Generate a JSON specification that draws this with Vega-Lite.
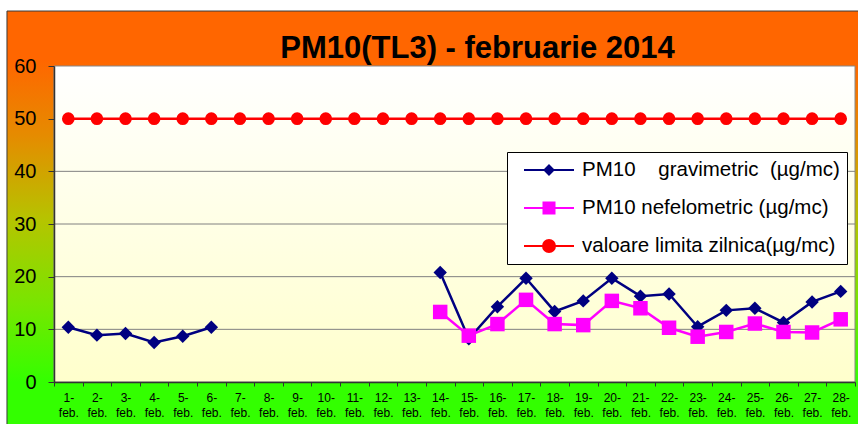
{
  "$schema": "https://vega.github.io/schema/vega-lite/v6.json",
  "width": 801,
  "height": 316,
  "autosize": {"type": "none"},
  "padding": {"left": 54, "top": 66, "right": 3, "bottom": 42},
  "background": "white",
  "title": {"text": "PM10(TL3) - februarie 2014", "font": "Liberation Sans", "fontSize": 31, "fontWeight": "bold", "color": "black", "anchor": "middle", "frame": "group", "dx": 23, "offset": 0, "baseline": "alphabetic", "dy": 78, "zindex": 1},
  "data": {"values": [
    {"day": "1-feb.", "series": "PM10    gravimetric  (µg/mc)", "value": 10.4},
    {"day": "2-feb.", "series": "PM10    gravimetric  (µg/mc)", "value": 8.9},
    {"day": "3-feb.", "series": "PM10    gravimetric  (µg/mc)", "value": 9.2},
    {"day": "4-feb.", "series": "PM10    gravimetric  (µg/mc)", "value": 7.5},
    {"day": "5-feb.", "series": "PM10    gravimetric  (µg/mc)", "value": 8.7},
    {"day": "6-feb.", "series": "PM10    gravimetric  (µg/mc)", "value": 10.4},
    {"day": "7-feb.", "series": "PM10    gravimetric  (µg/mc)", "value": null},
    {"day": "8-feb.", "series": "PM10    gravimetric  (µg/mc)", "value": null},
    {"day": "9-feb.", "series": "PM10    gravimetric  (µg/mc)", "value": null},
    {"day": "10-feb.", "series": "PM10    gravimetric  (µg/mc)", "value": null},
    {"day": "11-feb.", "series": "PM10    gravimetric  (µg/mc)", "value": null},
    {"day": "12-feb.", "series": "PM10    gravimetric  (µg/mc)", "value": null},
    {"day": "13-feb.", "series": "PM10    gravimetric  (µg/mc)", "value": null},
    {"day": "14-feb.", "series": "PM10    gravimetric  (µg/mc)", "value": 20.8},
    {"day": "15-feb.", "series": "PM10    gravimetric  (µg/mc)", "value": 8.2},
    {"day": "16-feb.", "series": "PM10    gravimetric  (µg/mc)", "value": 14.3},
    {"day": "17-feb.", "series": "PM10    gravimetric  (µg/mc)", "value": 19.7},
    {"day": "18-feb.", "series": "PM10    gravimetric  (µg/mc)", "value": 13.4},
    {"day": "19-feb.", "series": "PM10    gravimetric  (µg/mc)", "value": 15.4},
    {"day": "20-feb.", "series": "PM10    gravimetric  (µg/mc)", "value": 19.7},
    {"day": "21-feb.", "series": "PM10    gravimetric  (µg/mc)", "value": 16.3},
    {"day": "22-feb.", "series": "PM10    gravimetric  (µg/mc)", "value": 16.7},
    {"day": "23-feb.", "series": "PM10    gravimetric  (µg/mc)", "value": 10.5},
    {"day": "24-feb.", "series": "PM10    gravimetric  (µg/mc)", "value": 13.6},
    {"day": "25-feb.", "series": "PM10    gravimetric  (µg/mc)", "value": 14.0},
    {"day": "26-feb.", "series": "PM10    gravimetric  (µg/mc)", "value": 11.3},
    {"day": "27-feb.", "series": "PM10    gravimetric  (µg/mc)", "value": 15.2},
    {"day": "28-feb.", "series": "PM10    gravimetric  (µg/mc)", "value": 17.2},
    {"day": "14-feb.", "series": "PM10 nefelometric (µg/mc)", "value": 13.3},
    {"day": "15-feb.", "series": "PM10 nefelometric (µg/mc)", "value": 8.8},
    {"day": "16-feb.", "series": "PM10 nefelometric (µg/mc)", "value": 11.0},
    {"day": "17-feb.", "series": "PM10 nefelometric (µg/mc)", "value": 15.6},
    {"day": "18-feb.", "series": "PM10 nefelometric (µg/mc)", "value": 11.0},
    {"day": "19-feb.", "series": "PM10 nefelometric (µg/mc)", "value": 10.8},
    {"day": "20-feb.", "series": "PM10 nefelometric (µg/mc)", "value": 15.4},
    {"day": "21-feb.", "series": "PM10 nefelometric (µg/mc)", "value": 14.0},
    {"day": "22-feb.", "series": "PM10 nefelometric (µg/mc)", "value": 10.3},
    {"day": "23-feb.", "series": "PM10 nefelometric (µg/mc)", "value": 8.6},
    {"day": "24-feb.", "series": "PM10 nefelometric (µg/mc)", "value": 9.5},
    {"day": "25-feb.", "series": "PM10 nefelometric (µg/mc)", "value": 11.1},
    {"day": "26-feb.", "series": "PM10 nefelometric (µg/mc)", "value": 9.5},
    {"day": "27-feb.", "series": "PM10 nefelometric (µg/mc)", "value": 9.4},
    {"day": "28-feb.", "series": "PM10 nefelometric (µg/mc)", "value": 11.9},
    {"day": "1-feb.", "series": "valoare limita zilnica(µg/mc)", "value": 50},
    {"day": "2-feb.", "series": "valoare limita zilnica(µg/mc)", "value": 50},
    {"day": "3-feb.", "series": "valoare limita zilnica(µg/mc)", "value": 50},
    {"day": "4-feb.", "series": "valoare limita zilnica(µg/mc)", "value": 50},
    {"day": "5-feb.", "series": "valoare limita zilnica(µg/mc)", "value": 50},
    {"day": "6-feb.", "series": "valoare limita zilnica(µg/mc)", "value": 50},
    {"day": "7-feb.", "series": "valoare limita zilnica(µg/mc)", "value": 50},
    {"day": "8-feb.", "series": "valoare limita zilnica(µg/mc)", "value": 50},
    {"day": "9-feb.", "series": "valoare limita zilnica(µg/mc)", "value": 50},
    {"day": "10-feb.", "series": "valoare limita zilnica(µg/mc)", "value": 50},
    {"day": "11-feb.", "series": "valoare limita zilnica(µg/mc)", "value": 50},
    {"day": "12-feb.", "series": "valoare limita zilnica(µg/mc)", "value": 50},
    {"day": "13-feb.", "series": "valoare limita zilnica(µg/mc)", "value": 50},
    {"day": "14-feb.", "series": "valoare limita zilnica(µg/mc)", "value": 50},
    {"day": "15-feb.", "series": "valoare limita zilnica(µg/mc)", "value": 50},
    {"day": "16-feb.", "series": "valoare limita zilnica(µg/mc)", "value": 50},
    {"day": "17-feb.", "series": "valoare limita zilnica(µg/mc)", "value": 50},
    {"day": "18-feb.", "series": "valoare limita zilnica(µg/mc)", "value": 50},
    {"day": "19-feb.", "series": "valoare limita zilnica(µg/mc)", "value": 50},
    {"day": "20-feb.", "series": "valoare limita zilnica(µg/mc)", "value": 50},
    {"day": "21-feb.", "series": "valoare limita zilnica(µg/mc)", "value": 50},
    {"day": "22-feb.", "series": "valoare limita zilnica(µg/mc)", "value": 50},
    {"day": "23-feb.", "series": "valoare limita zilnica(µg/mc)", "value": 50},
    {"day": "24-feb.", "series": "valoare limita zilnica(µg/mc)", "value": 50},
    {"day": "25-feb.", "series": "valoare limita zilnica(µg/mc)", "value": 50},
    {"day": "26-feb.", "series": "valoare limita zilnica(µg/mc)", "value": 50},
    {"day": "27-feb.", "series": "valoare limita zilnica(µg/mc)", "value": 50},
    {"day": "28-feb.", "series": "valoare limita zilnica(µg/mc)", "value": 50}
  ]},
  "layer": [
    {
      "data": {"values": [{}]},
      "layer": [
        {
          "mark": {"type": "rect", "stroke": "#3a3a3a", "strokeWidth": 1,
            "fill": {"gradient": "linear", "x1": 0, "y1": 0, "x2": 0, "y2": 1, "stops": [
              {"offset": 0, "color": "#FF6600"},
              {"offset": 0.117, "color": "#FF6600"},
              {"offset": 0.3, "color": "#E58C00"},
              {"offset": 0.5, "color": "#B5C400"},
              {"offset": 0.7, "color": "#78E600"},
              {"offset": 0.887, "color": "#33FF00"},
              {"offset": 1, "color": "#33FF00"}
            ]}},
          "encoding": {
            "x": {"datum": -0.0587, "type": "quantitative", "scale": {"domain": [0, 1], "nice": false, "zero": false}, "axis": null},
            "x2": {"datum": 1.02},
            "y": {"datum": 70.44, "type": "quantitative", "scale": {"domain": [0, 60], "nice": false}, "axis": {"title": null, "zindex": 1}},
            "y2": {"datum": -9}
          }
        },
        {
          "mark": {"type": "rect", "stroke": "#888888", "strokeWidth": 1,
            "fill": {"gradient": "linear", "x1": 0, "y1": 0, "x2": 0, "y2": 1, "stops": [
              {"offset": 0, "color": "#FFFFFF"},
              {"offset": 1, "color": "#FFFFCC"}
            ]}},
          "encoding": {
            "x": {"datum": 0, "type": "quantitative", "scale": {"domain": [0, 1], "nice": false, "zero": false}, "axis": null},
            "x2": {"datum": 1},
            "y": {"datum": 60, "type": "quantitative", "scale": {"domain": [0, 60], "nice": false}, "axis": {"title": null, "zindex": 1}},
            "y2": {"datum": 0}
          }
        }
      ]
    },
    {"data": {"values": [{}]}, "mark": {"type": "rule", "color": "#808080", "strokeWidth": 1}, "encoding": {"y": {"datum": 10, "type": "quantitative", "scale": {"domain": [0, 60], "nice": false}, "axis": {"title": null, "zindex": 1}}}},
    {"data": {"values": [{}]}, "mark": {"type": "rule", "color": "#808080", "strokeWidth": 1}, "encoding": {"y": {"datum": 20, "type": "quantitative", "scale": {"domain": [0, 60], "nice": false}, "axis": {"title": null, "zindex": 1}}}},
    {"data": {"values": [{}]}, "mark": {"type": "rule", "color": "#808080", "strokeWidth": 1}, "encoding": {"y": {"datum": 30, "type": "quantitative", "scale": {"domain": [0, 60], "nice": false}, "axis": {"title": null, "zindex": 1}}}},
    {"data": {"values": [{}]}, "mark": {"type": "rule", "color": "#808080", "strokeWidth": 1}, "encoding": {"y": {"datum": 40, "type": "quantitative", "scale": {"domain": [0, 60], "nice": false}, "axis": {"title": null, "zindex": 1}}}},
    {
      "encoding": {
        "x": {"field": "day", "type": "nominal", "sort": null,
          "scale": {"type": "band", "paddingInner": 0, "paddingOuter": 0, "domain": ["1-feb.","2-feb.","3-feb.","4-feb.","5-feb.","6-feb.","7-feb.","8-feb.","9-feb.","10-feb.","11-feb.","12-feb.","13-feb.","14-feb.","15-feb.","16-feb.","17-feb.","18-feb.","19-feb.","20-feb.","21-feb.","22-feb.","23-feb.","24-feb.","25-feb.","26-feb.","27-feb.","28-feb."]},
          "bandPosition": 0.5,
          "axis": {"title": null, "labelAngle": 0, "tickBand": "extent", "zindex": 1, "labelExpr": "datum.label ? [split(datum.label, '-')[0] + '-', 'feb.'] : ''"}},
        "y": {"field": "value", "type": "quantitative", "scale": {"domain": [0, 60], "nice": false},
          "axis": {"title": null, "zindex": 1, "values": [0, 10, 20, 30, 40, 50, 60]}},
        "color": {"field": "series", "type": "nominal",
          "scale": {"domain": ["PM10    gravimetric  (µg/mc)", "PM10 nefelometric (µg/mc)", "valoare limita zilnica(µg/mc)"], "range": ["#000080", "#FF00FF", "#FF0000"]},
          "legend": {"orient": "none", "legendX": 453, "legendY": 86, "title": null, "padding": 7, "symbolOffset": 24, "symbolSize": 400, "symbolStrokeWidth": 2, "labelFont": "Liberation Sans", "labelFontSize": 20.5, "labelColor": "black", "labelOffset": 22, "labelLimit": 400, "rowPadding": 16, "fillColor": "white", "strokeColor": "black",
            "labelExpr": "join(split(datum.label, ' '), '\u00a0')",
            "encode": {"symbols": {"update": {
              "shape": {"signal": "datum.index == 1 ? 'M-2.5,0H2.5M-0.55,-0.55H0.55V0.55H-0.55Z' : datum.index == 2 ? 'M-2.5,0H2.5M0.6,0A0.6,0.6,0,1,1,-0.6,0A0.6,0.6,0,1,1,0.6,0Z' : 'M-2.5,0H2.5M0,-0.45L0.45,0L0,0.45L-0.45,0Z'"},
              "size": {"value": 400},
              "fill": {"scale": "color", "field": "value"},
              "stroke": {"scale": "color", "field": "value"},
              "strokeWidth": {"value": 2},
              "opacity": {"value": 1}
            }}}}}
      },
      "layer": [
        {"mark": {"type": "line", "strokeWidth": 2.5}},
        {"transform": [{"filter": {"field": "series", "equal": "PM10    gravimetric  (µg/mc)"}}], "mark": {"type": "point", "filled": true, "opacity": 1, "shape": "diamond", "size": 180}},
        {"transform": [{"filter": {"field": "series", "equal": "PM10 nefelometric (µg/mc)"}}], "mark": {"type": "point", "filled": true, "opacity": 1, "shape": "square", "size": 210}},
        {"transform": [{"filter": {"field": "series", "equal": "valoare limita zilnica(µg/mc)"}}], "mark": {"type": "point", "filled": true, "opacity": 1, "shape": "circle", "size": 160}}
      ]
    }
  ],
  "resolve": {"scale": {"x": "independent"}},
  "config": {
    "view": {"stroke": null},
    "axis": {"labelFont": "Liberation Sans", "labelColor": "black", "domainColor": "#333333", "tickColor": "#333333", "grid": false, "domainWidth": 1.5},
    "axisY": {"labelFontSize": 20, "tickSize": 6, "labelPadding": 12},
    "axisX": {"labelFontSize": 12, "labelLineHeight": 15, "tickSize": 4, "labelPadding": 6, "labelBaseline": "top"}
  }
}
